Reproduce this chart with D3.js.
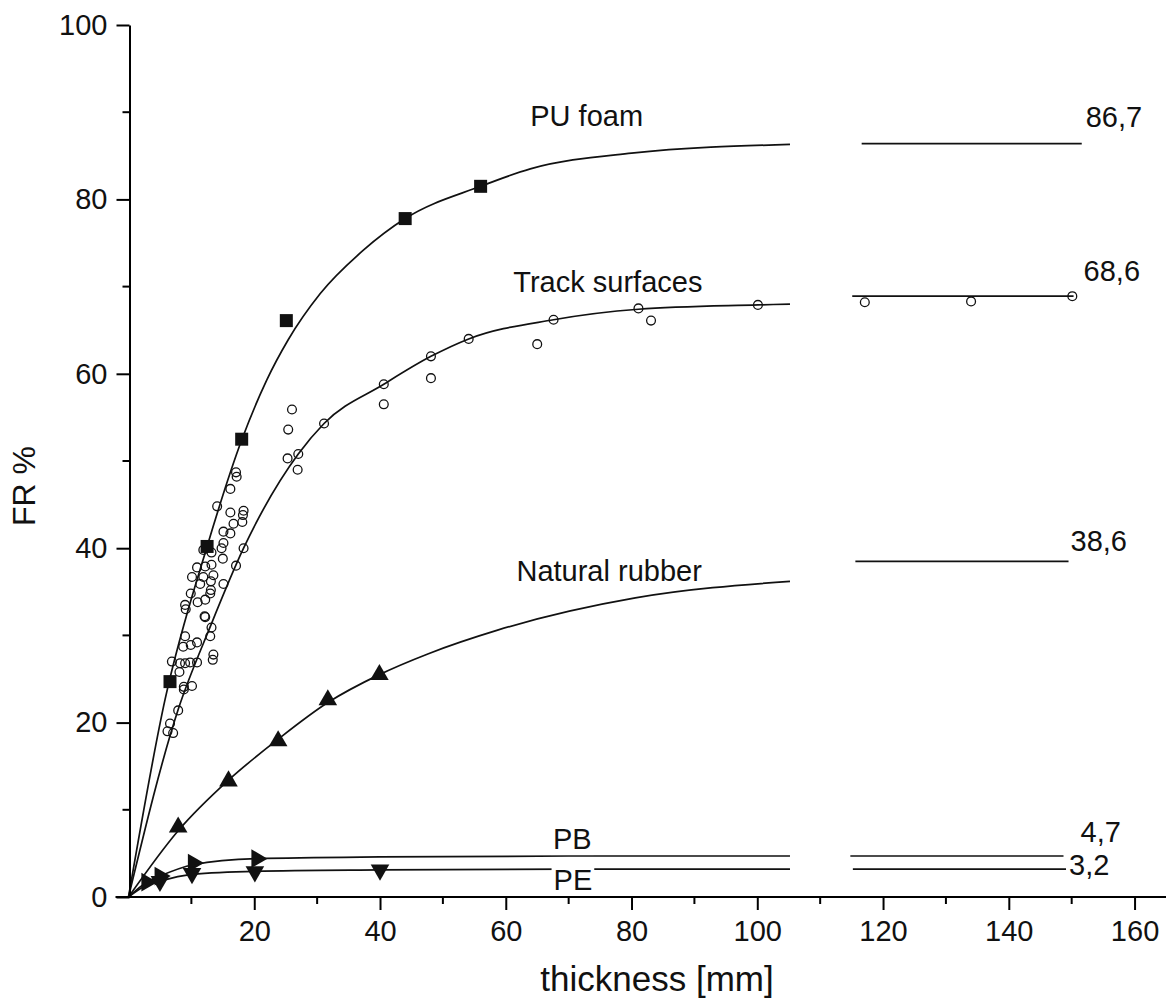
<!DOCTYPE html>
<html>
<head>
<meta charset="utf-8">
<script src="https://cdn.jsdelivr.net/npm/d3@7"></script>
<style>
  html, body { margin: 0; padding: 0; background: #fff; }
  svg { display: block; }
  text { font-family: "Liberation Sans", Arial, sans-serif; fill: #111; }
</style>
</head>
<body>
<svg id="chart" width="1169" height="1001"></svg>
<script>
// ---------- data ----------
const xMajorTicks = [20, 40, 60, 80, 100, 120, 140, 160];
const xMinorTicks = [10, 30, 50, 70, 90, 110, 130, 150];
const yMajorTicks = [0, 20, 40, 60, 80, 100];
const yMinorTicks = [10, 30, 50, 70, 90];

const seriesNames = ["PU foam", "Track surfaces", "Natural rubber", "PB", "PE"];
const asymptoteLabels = ["86,7", "68,6", "38,6", "4,7", "3,2"];

// measured points
const puFoamPoints = [[6.6,24.7],[12.5,40.2],[18.0,52.5],[25.1,66.1],[44.0,77.8],[56.0,81.5]];
const trackPoints = [
  [100.1,67.9],[83.1,66.1],[81.1,67.5],[67.6,66.2],[65.0,63.4],[54.1,64.0],[48.1,62.0],[48.1,59.5],
  [40.6,58.8],[40.6,56.5],[31.1,54.3],[26.0,55.9],[25.4,53.6],[27.0,50.8],[25.3,50.3],[26.9,49.0],
  [17.1,48.7],[17.2,48.2],[16.2,46.8],[14.1,44.8],[16.2,44.1],[18.3,44.3],[18.2,43.8],[18.1,43.0],
  [16.7,42.8],[15.1,41.9],[16.2,41.7],[15.1,40.6],[14.8,40.0],[18.3,40.0],[11.9,39.8],[13.2,39.5],
  [15.0,38.8],[17.1,38.0],[10.9,37.8],[12.2,37.9],[13.2,38.1],[10.1,36.7],[11.9,36.7],[13.5,36.9],
  [11.4,35.9],[13.1,36.2],[15.1,35.9],[9.9,34.8],[13.1,35.2],[13.0,34.8],[11.0,33.8],[12.2,34.1],
  [9.0,33.5],[9.1,33.0],[12.1,32.2],[12.2,32.1],[13.2,30.9],[13.0,29.9],[9.0,29.9],[8.7,28.7],
  [9.9,28.9],[10.9,29.2],[13.5,27.8],[13.4,27.2],[6.9,27.0],[8.2,26.8],[9.0,26.8],[9.8,26.9],
  [10.9,26.9],[8.1,25.8],[8.8,24.1],[8.8,23.8],[10.1,24.2],[7.9,21.4],[6.6,19.9],[6.2,19.0],[7.1,18.8],
  [117.1,68.2],[134.0,68.3],[150.1,68.9]
];
const rubberPoints = [[7.9,8.0],[15.9,13.3],[23.8,17.9],[31.7,22.6],[39.9,25.5]];
const pbPoints = [[2.9,1.7],[5.0,2.4],[10.3,3.9],[20.4,4.4]];
const pePoints = [[5.0,1.8],[10.1,2.7],[20.1,2.9],[40.0,3.1]];

// fitted curves (0 .. 105 mm)
const puFoamCurve = [[0,0],[5.8,22.6],[12.5,40.2],[18.0,52.4],[22.0,59.3],[25.4,63.9],[30.5,69.2],[37.4,74.2],[44.0,77.8],[56.0,81.5],[63.9,83.5],[80.0,85.3],[105.2,86.3]];
const trackCurve = [[0,0],[7.9,21.5],[13.0,31.0],[18.3,40.0],[27.0,50.8],[31.1,54.3],[40.6,58.8],[48.1,62.0],[54.1,64.0],[67.6,66.2],[81.1,67.4],[100.1,67.9],[105.2,68.0]];
const rubberCurve = [[0,0],[7.9,7.6],[15.9,13.4],[23.8,18.1],[31.7,22.3],[39.9,25.5],[47.7,27.9],[58.7,30.6],[80.6,34.3],[105.2,36.2]];
const pbCurve = [[0,0],[2.9,1.7],[5.0,2.4],[10.3,3.7],[20.4,4.4],[40.0,4.6],[70.0,4.7],[105.2,4.7]];
const peCurve = [[0,0],[2.5,1.2],[5.0,1.8],[10.1,2.6],[20.1,2.95],[40.0,3.1],[70.0,3.2],[105.2,3.2]];

// plateau segments after the axis gap: [xStart, xEnd, value]
const plateauSegments = [[116.6,151.6,86.4],[115.1,150.3,68.9],[115.6,149.5,38.5],[114.8,148.7,4.7],[115.2,149.1,3.2]];

// ---------- drawing ----------
const svg = d3.select("#chart");
svg.append("rect").attr("width", 1169).attr("height", 1001).attr("fill", "#fff");

const x = d3.scaleLinear().domain([0, 165]).range([128.5, 1166]);
const y = d3.scaleLinear().domain([0, 100]).range([897, 25]);

const ink = "#111";

// curves
const line = d3.line().x(d => x(d[0])).y(d => y(d[1])).curve(d3.curveMonotoneX);
const curves = [puFoamCurve, trackCurve, rubberCurve, pbCurve, peCurve];
const gCurves = svg.append("g");
curves.forEach(c => {
  gCurves.append("path").attr("d", line(c)).attr("fill", "none")
    .attr("stroke", ink).attr("stroke-width", 1.7);
});
plateauSegments.forEach(s => {
  gCurves.append("line").attr("x1", x(s[0])).attr("x2", x(s[1]))
    .attr("y1", y(s[2])).attr("y2", y(s[2]))
    .attr("stroke", ink).attr("stroke-width", 1.7);
});

// series labels (PB / PE have white boxes that interrupt the lines)
const seriesLabelPos = [[63.9, 88.4], [61.2, 69.4], [61.7, 36.2], [67.5, 5.5], [67.6, 0.8]];
const gLabels = svg.append("g");
seriesNames.forEach((name, i) => {
  const t = gLabels.append("text").attr("x", x(seriesLabelPos[i][0])).attr("y", y(seriesLabelPos[i][1]))
    .attr("font-size", 29).text(name);
  if (name === "PB" || name === "PE") {
    const bb = t.node().getBBox();
    gLabels.insert("rect", () => t.node())
      .attr("x", bb.x - 2).attr("y", bb.y).attr("width", bb.width + 4).attr("height", bb.height)
      .attr("fill", "#fff");
  }
});

// asymptote value labels
const valueOffsets = [[4, -17], [10, -15], [2, -10], [17, -14], [3, 6]];
asymptoteLabels.forEach((lab, i) => {
  const s = plateauSegments[i];
  svg.append("text").attr("x", x(s[1]) + valueOffsets[i][0]).attr("y", y(s[2]) + valueOffsets[i][1])
    .attr("font-size", 29).text(lab);
});

// markers
const gMarks = svg.append("g");
gMarks.selectAll("circle.tr").data(trackPoints).join("circle")
  .attr("cx", d => x(d[0])).attr("cy", d => y(d[1])).attr("r", 4.4)
  .attr("fill", "none").attr("stroke", ink).attr("stroke-width", 1.3);
gMarks.selectAll("rect.pu").data(puFoamPoints).join("rect")
  .attr("x", d => x(d[0]) - 6.5).attr("y", d => y(d[1]) - 6.5).attr("width", 13).attr("height", 13)
  .attr("fill", ink);
const tri = d3.symbol().type(d3.symbolTriangle).size(150);
gMarks.selectAll("path.nr").data(rubberPoints).join("path")
  .attr("d", tri).attr("transform", d => `translate(${x(d[0])},${y(d[1])})`).attr("fill", ink);
gMarks.selectAll("path.pb").data(pbPoints).join("path")
  .attr("d", tri).attr("transform", d => `translate(${x(d[0])},${y(d[1])}) rotate(90)`).attr("fill", ink);
gMarks.selectAll("path.pe").data(pePoints).join("path")
  .attr("d", tri).attr("transform", d => `translate(${x(d[0])},${y(d[1])}) rotate(180)`).attr("fill", ink);

// axes
const axisColor = "#000";
const xAxis = svg.append("g").attr("transform", `translate(0,${y(0)})`);
xAxis.call(d3.axisBottom(x).tickValues(xMajorTicks).tickSize(13).tickSizeOuter(0).tickPadding(10).tickFormat(d3.format("d")));
xAxis.append("g").selectAll("line").data(xMinorTicks).join("line")
  .attr("x1", d => x(d)).attr("x2", d => x(d)).attr("y1", 0).attr("y2", 7);
xAxis.selectAll("path.domain").attr("d", `M${x(0) - 13},0H${x(165)}`);
xAxis.selectAll("line").attr("stroke", axisColor).attr("stroke-width", 2);
xAxis.selectAll("path").attr("stroke", axisColor).attr("stroke-width", 2);
xAxis.selectAll("text").attr("font-size", 29).attr("font-family", '"Liberation Sans", Arial, sans-serif').attr("fill", "#111");

const yAxis = svg.append("g").attr("transform", `translate(${x(0) + 1},0)`);
yAxis.call(d3.axisLeft(y).tickValues(yMajorTicks).tickSize(13).tickSizeOuter(0).tickPadding(9).tickFormat(d3.format("d")));
yAxis.append("g").selectAll("line").data(yMinorTicks).join("line")
  .attr("x1", 0).attr("x2", -7).attr("y1", d => y(d)).attr("y2", d => y(d));
yAxis.selectAll("line").attr("stroke", axisColor).attr("stroke-width", 2);
yAxis.selectAll("path").attr("stroke", axisColor).attr("stroke-width", 2);
yAxis.selectAll("text").attr("font-size", 29).attr("font-family", '"Liberation Sans", Arial, sans-serif').attr("fill", "#111");

// axis titles
svg.append("text").attr("x", 657).attr("y", 991).attr("text-anchor", "middle")
  .attr("font-size", 35).text("thickness [mm]");
svg.append("text").attr("transform", "translate(35,486) rotate(-90)").attr("text-anchor", "middle")
  .attr("font-size", 32).text("FR %");
</script>
</body>
</html>
